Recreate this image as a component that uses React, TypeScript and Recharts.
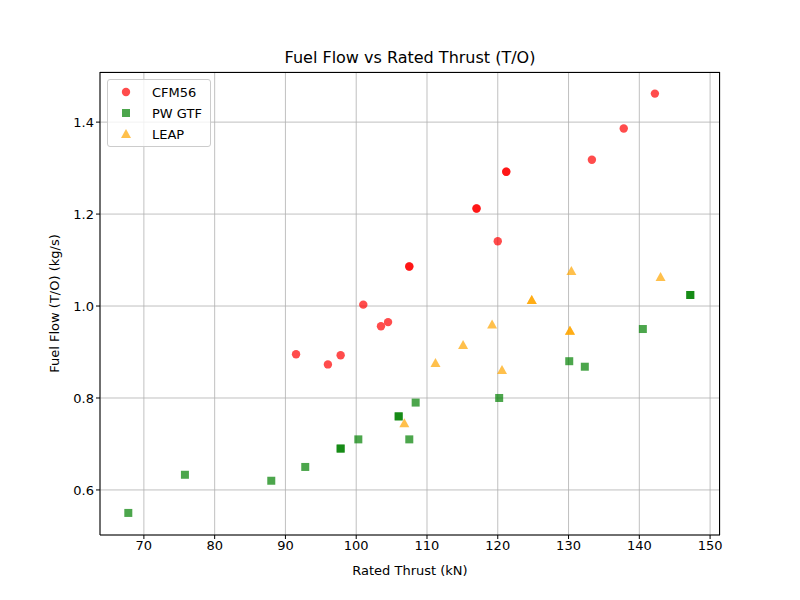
import React from "react";
import { ScatterChart, Scatter, XAxis, YAxis, CartesianGrid } from "recharts";

const cfm56 = [
  { x: 91.5, y: 0.895 }, { x: 96, y: 0.873 }, { x: 97.8, y: 0.893 }, { x: 101, y: 1.003 },
  { x: 103.5, y: 0.956 }, { x: 104.5, y: 0.965 }, { x: 107.5, y: 1.086 }, { x: 107.5, y: 1.086 },
  { x: 117, y: 1.212 }, { x: 117, y: 1.212 }, { x: 120, y: 1.141 }, { x: 121.2, y: 1.292 },
  { x: 121.2, y: 1.292 }, { x: 133.3, y: 1.318 }, { x: 137.8, y: 1.386 }, { x: 142.2, y: 1.462 },
];
const pwGtf = [
  { x: 67.8, y: 0.55 }, { x: 75.8, y: 0.633 }, { x: 88, y: 0.62 }, { x: 92.8, y: 0.65 },
  { x: 97.8, y: 0.69 }, { x: 97.8, y: 0.69 }, { x: 100.3, y: 0.71 }, { x: 106, y: 0.76 }, { x: 106, y: 0.76 },
  { x: 107.5, y: 0.71 }, { x: 108.4, y: 0.79 }, { x: 120.2, y: 0.8 }, { x: 130.1, y: 0.88 },
  { x: 132.3, y: 0.868 }, { x: 140.5, y: 0.95 }, { x: 147.2, y: 1.024 }, { x: 147.2, y: 1.024 },
];
const leap = [
  { x: 106.8, y: 0.745 }, { x: 111.2, y: 0.876 }, { x: 115.1, y: 0.915 }, { x: 119.2, y: 0.96 },
  { x: 120.6, y: 0.861 }, { x: 124.8, y: 1.013 }, { x: 124.8, y: 1.013 }, { x: 130.2, y: 0.946 },
  { x: 130.2, y: 0.946 }, { x: 130.4, y: 1.076 }, { x: 143, y: 1.063 },
];
const xTicks = [70, 80, 90, 100, 110, 120, 130, 140, 150];
const yTicks = [0.6, 0.8, 1.0, 1.2, 1.4];

const Circle = (p: any) => <circle cx={p.cx} cy={p.cy} r={4.2} fill="red" fillOpacity={0.7} />;
const Square = (p: any) => <rect x={p.cx - 4} y={p.cy - 4} width={8} height={8} fill="green" fillOpacity={0.7} />;
const Tri = (p: any) => (
  <polygon points={`${p.cx},${p.cy - 5} ${p.cx - 5},${p.cy + 4} ${p.cx + 5},${p.cy + 4}`} fill="orange" fillOpacity={0.7} />
);

const font = "DejaVu Sans, sans-serif";
const tick = { fill: "#000", fontSize: 13, fontFamily: font };

export default function App() {
  return (
    <div style={{ position: "absolute", left: 0, top: 0, width: 800, height: 600, background: "#fff", fontFamily: font }}>
      <div style={{ position: "absolute", top: 48, width: 800, left: 10, textAlign: "center", fontSize: 16 }}>
        Fuel Flow vs Rated Thrust (T/O)
      </div>
      <ScatterChart width={800} height={600} margin={{ top: 72, right: 80, bottom: 0, left: 0 }}>
        <CartesianGrid stroke="#b0b0b0" strokeWidth={0.8} />
        <XAxis type="number" dataKey="x" domain={[63.8, 151.4]} ticks={xTicks} height={65}
          tick={tick} tickSize={4} stroke="#000" allowDataOverflow
          label={{ value: "Rated Thrust (kN)", position: "insideBottom", offset: 25, fill: "#000", fontSize: 13, fontFamily: font }} />
        <YAxis type="number" dataKey="y" domain={[0.502, 1.509]} ticks={yTicks} width={100}
          tick={tick} tickSize={4} stroke="#000" allowDataOverflow tickFormatter={(v: number) => v.toFixed(1)}
          label={{ value: "Fuel Flow (T/O) (kg/s)", angle: -90, position: "insideLeft", offset: 54, style: { textAnchor: "middle" }, fill: "#000", fontSize: 13, fontFamily: font }} />
        <Scatter name="CFM56" data={cfm56} shape={Circle} isAnimationActive={false} />
        <Scatter name="PW GTF" data={pwGtf} shape={Square} isAnimationActive={false} />
        <Scatter name="LEAP" data={leap} shape={Tri} isAnimationActive={false} />
      </ScatterChart>
      <div style={{ position: "absolute", left: 100, top: 72, width: 620, height: 463, borderTop: "1px solid #000", borderRight: "1px solid #000", boxSizing: "border-box", pointerEvents: "none" }} />
      <div style={{ position: "absolute", left: 107, top: 79, width: 102, height: 66, border: "1px solid #ccc", borderRadius: 3, background: "rgba(255,255,255,0.8)", fontSize: 13 }}>
        {[
          ["CFM56", <circle cx={8} cy={8} r={4.2} fill="red" fillOpacity={0.7} />],
          ["PW GTF", <rect x={4} y={4} width={8} height={8} fill="green" fillOpacity={0.7} />],
          ["LEAP", <polygon points="8,3 3,12 13,12" fill="orange" fillOpacity={0.7} />],
        ].map(([n, s]: any, i) => (
          <div key={i} style={{ position: "absolute", left: 10, top: 4 + i * 21, display: "flex", alignItems: "center" }}>
            <svg width={16} height={16}>{s}</svg>
            <span style={{ marginLeft: 18 }}>{n}</span>
          </div>
        ))}
      </div>
    </div>
  );
}
